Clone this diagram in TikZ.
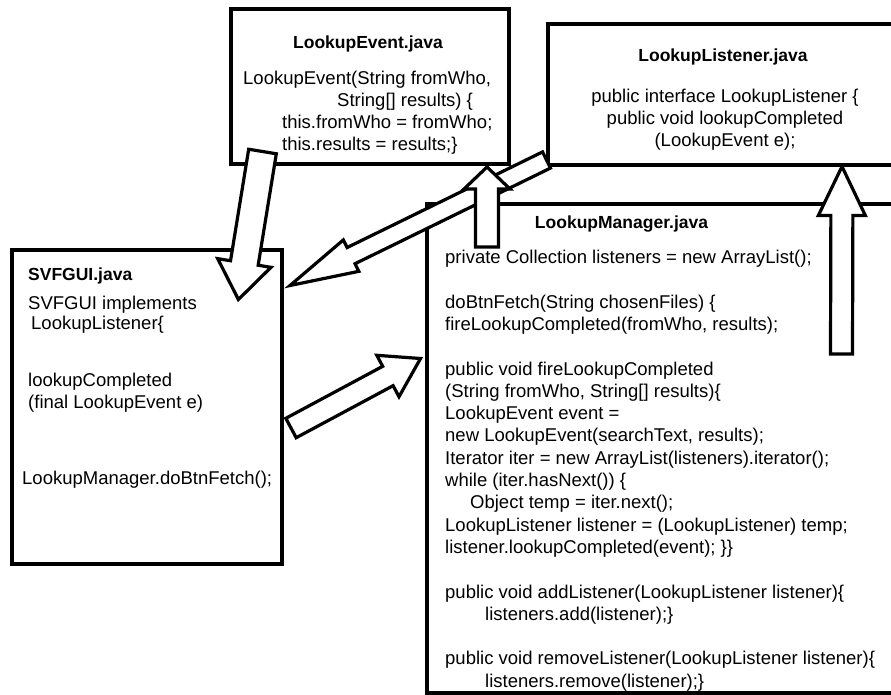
\documentclass[tikz,border=0pt]{standalone}
\usepackage{fontspec}
\setmainfont{Liberation Sans}
\usetikzlibrary{calc}

% Block arrow: #1 name, #2 tail, #3 tip, #4 shaft half-width,
% #5 head half-width, #6 head length
\newcommand\blockarrow[6]{%
  \coordinate (#1-neck) at ($(#3)!#6!(#2)$);
  \draw[barrow]
    ($(#2)!#4!90:(#3)$) -- ($(#1-neck)!#4!-90:(#2)$) -- ($(#1-neck)!#5!-90:(#2)$)
    -- (#3)
    -- ($(#1-neck)!#5!90:(#2)$) -- ($(#1-neck)!#4!90:(#2)$) -- ($(#2)!#4!-90:(#3)$)
    -- cycle;
}

\begin{document}
\begin{tikzpicture}[x=1pt,y=-1pt,
  box/.style={draw=black, line width=4pt, rectangle, inner sep=0pt, outer sep=0pt, anchor=north west},
  code/.style={font=\fontsize{18.5}{22}\selectfont, inner sep=0pt, text=black},
  title/.style={font=\fontsize{17.5}{21}\selectfont\bfseries, inner sep=0pt, text=black},
  barrow/.style={draw=black, fill=white, line width=3.2pt, line join=miter}]

\useasboundingbox (0,0) rectangle (891,694);
\fill[white] (0,0) rectangle (891,694);
\clip (0,0) rectangle (891,694);

% ---- class boxes ----
\node[box, minimum width=278pt, minimum height=155pt] (event) at (230.5,9) {};
\node[box, minimum width=360pt, minimum height=141pt] (listener) at (548,23.5) {};
\node[box, minimum width=270.5pt, minimum height=314pt] (gui) at (11.5,250) {};
\node[box, minimum width=480pt, minimum height=489pt] (manager) at (427,203.5) {};

% ---- LookupEvent.java ----
\node[title, anchor=base] (event-title) at (368,48.5) {LookupEvent.java};
\node[code, anchor=base west] (event-l1) at (243,84) {LookupEvent(String fromWho,};
\node[code, anchor=base west] (event-l2) at (337,106) {String[] results) \{};
\node[code, anchor=base west] (event-l3) at (282,128) {this.fromWho = fromWho;};
\node[code, anchor=base west] (event-l4) at (282,150) {this.results = results;\}};

% ---- LookupListener.java ----
\node[title, anchor=base] (listener-title) at (723,61) {LookupListener.java};
\node[code, anchor=base] (listener-l1) at (725,102.5) {public interface LookupListener \{};
\node[code, anchor=base] (listener-l2) at (725,124.5) {public void lookupCompleted};
\node[code, anchor=base] (listener-l3) at (725,146.5) {(LookupEvent e);};

% ---- SVFGUI.java ----
\node[title, anchor=base west] (gui-title) at (28,280.5) {SVFGUI.java};
\node[code, anchor=base west] (gui-l1) at (28,309) {SVFGUI implements};
\node[code, anchor=base west] (gui-l2) at (31,329) {LookupListener\{};
\node[code, anchor=base west] (gui-l3) at (28,386) {lookupCompleted};
\node[code, anchor=base west] (gui-l4) at (28,408) {(final LookupEvent e)};
\node[code, anchor=base west] (gui-l5) at (22,484) {LookupManager.doBtnFetch();};

% ---- LookupManager.java ----
\node[title, anchor=base] (manager-title) at (621.5,228) {LookupManager.java};
\foreach \k/\dx/\txt in {
  0/0/{private Collection listeners = new ArrayList();},
  2/0/{doBtnFetch(String chosenFiles) \{},
  3/0/{fireLookupCompleted(fromWho, results);},
  5/0/{public void fireLookupCompleted},
  6/0/{(String fromWho, String[] results)\{},
  7/0/{LookupEvent event =},
  8/0/{new LookupEvent(searchText, results);},
  9/0/{Iterator iter = new ArrayList(listeners).iterator();},
  10/0/{while (iter.hasNext()) \{},
  11/25/{Object temp = iter.next();},
  12/0/{LookupListener listener = (LookupListener) temp;},
  13/0/{listener.lookupCompleted(event); \}\}},
  15/0/{public void addListener(LookupListener listener)\{},
  16/40/{listeners.add(listener);\}},
  18/0/{public void removeListener(LookupListener listener)\{},
  19/40/{listeners.remove(listener);\}}}
  \node[code, anchor=base west] (manager-l\k) at (445+\dx, 263.5+22.3*\k) {\txt};

% ---- arrow end points ----
\coordinate (a1-tail) at (262.5,151.5);  \coordinate (a1-tip) at (238.4,299.5);
\coordinate (a2-tail) at (546.5,160);    \coordinate (a2-tip) at (290,285.5);
\coordinate (a3-tail) at (291,428);      \coordinate (a3-tip) at (420.5,358.5);
\coordinate (a4-tail) at (487,247);      \coordinate (a4-tip) at (487,167);
\coordinate (a5-tail) at (841.5,354);    \coordinate (a5-tip) at (842,166.5);

% ---- block arrows ----
\blockarrow{a1}{a1-tail}{a1-tip}{14pt}{27pt}{37pt}
\blockarrow{a2}{a2-tail}{a2-tip}{9pt}{17.5pt}{68pt}
\blockarrow{a3}{a3-tail}{a3-tip}{11pt}{23.5pt}{37pt}
\blockarrow{a4}{a4-tail}{a4-tip}{11.5pt}{23pt}{22pt}
\blockarrow{a5}{a5-tail}{a5-tip}{11pt}{23.5pt}{49pt}

\end{tikzpicture}
\end{document}
